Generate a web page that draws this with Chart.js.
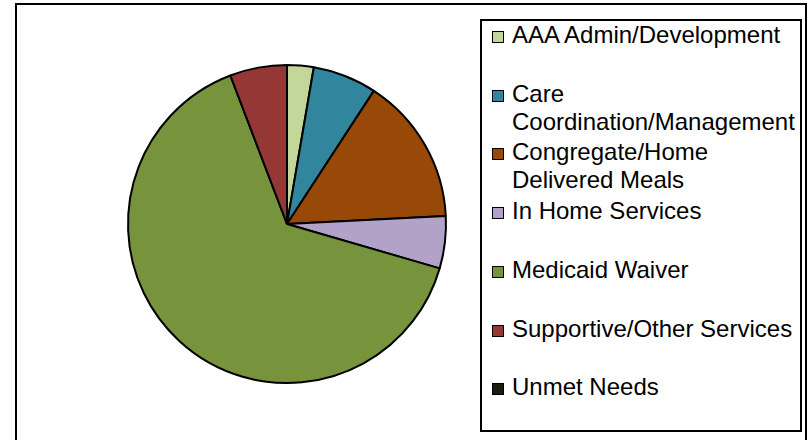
<!DOCTYPE html>
<html>
<head>
<meta charset="utf-8">
<script src="https://cdn.jsdelivr.net/npm/chart.js@4/dist/chart.umd.min.js"></script>
<style>
  body { margin: 0; background: #fff; }
  #wrap { position: relative; width: 812px; height: 440px; overflow: hidden; font-family: "Liberation Sans", Arial, sans-serif; }
  #frame { position: absolute; left: 15px; top: 3px; width: 788px; height: 460px; border: 2px solid #000; }
  #chart { position: absolute; left: 0; top: 0; }
  #legend { position: absolute; left: 480px; top: 19px; width: 318px; height: 409px; border: 2px solid #000; background: #fff; overflow: hidden; }
  .item { position: absolute; left: 10px; font-size: 24px; line-height: 28px; color: #000; }
  .box { position: absolute; left: 0; top: 10px; width: 10px; height: 10px; border: 1px solid #000; }
  .txt { position: absolute; left: 20px; top: 0; width: 320px; white-space: nowrap; }
</style>
</head>
<body>
<div id="wrap">
  <div id="frame"></div>
  <canvas id="chart" width="812" height="440"></canvas>
  <div id="legend"></div>
</div>
<script>
const categories = [
  "AAA Admin/Development",
  "Care Coordination/Management",
  "Congregate/Home Delivered Meals",
  "In Home Services",
  "Medicaid Waiver",
  "Supportive/Other Services",
  "Unmet Needs"
];
// percent shares
const values = [2.7, 6.5, 15.0, 5.3, 64.7, 5.8, 0];
const colors = ["#C4D79B", "#31859C", "#984807", "#B2A2C7", "#77933C", "#953735", "#1D1B10"];
// legend text as it wraps in the picture
const legendLines = [
  ["AAA Admin/Development"],
  ["Care", "Coordination/Management"],
  ["Congregate/Home", "Delivered Meals"],
  ["In Home Services"],
  ["Medicaid Waiver"],
  ["Supportive/Other Services"],
  ["Unmet Needs"]
];

document.addEventListener("DOMContentLoaded", function () {
  const ctx = document.getElementById("chart").getContext("2d");
  new Chart(ctx, {
    type: "pie",
    data: {
      labels: categories,
      datasets: [
        {
          data: values,
          backgroundColor: colors,
          borderColor: "#000",
          borderWidth: 2,
        },
      ],
    },
    options: {
      responsive: false,
      animation: false,
      layout: { padding: { left: 127, top: 64, right: 365, bottom: 56 } },
      plugins: {
        legend: { display: false },
        tooltip: { enabled: false },
      },
    },
  });

  // html legend, one slot per category
  const legend = document.getElementById("legend");
  categories.forEach(function (name, i) {
    const item = document.createElement("div");
    item.className = "item";
    item.style.top = (i * 58.7) + "px";
    const box = document.createElement("div");
    box.className = "box";
    box.style.background = colors[i];
    const txt = document.createElement("div");
    txt.className = "txt";
    txt.innerHTML = legendLines[i].join("<br>");
    item.appendChild(box);
    item.appendChild(txt);
    legend.appendChild(item);
  });
});
</script>
</body>
</html>
